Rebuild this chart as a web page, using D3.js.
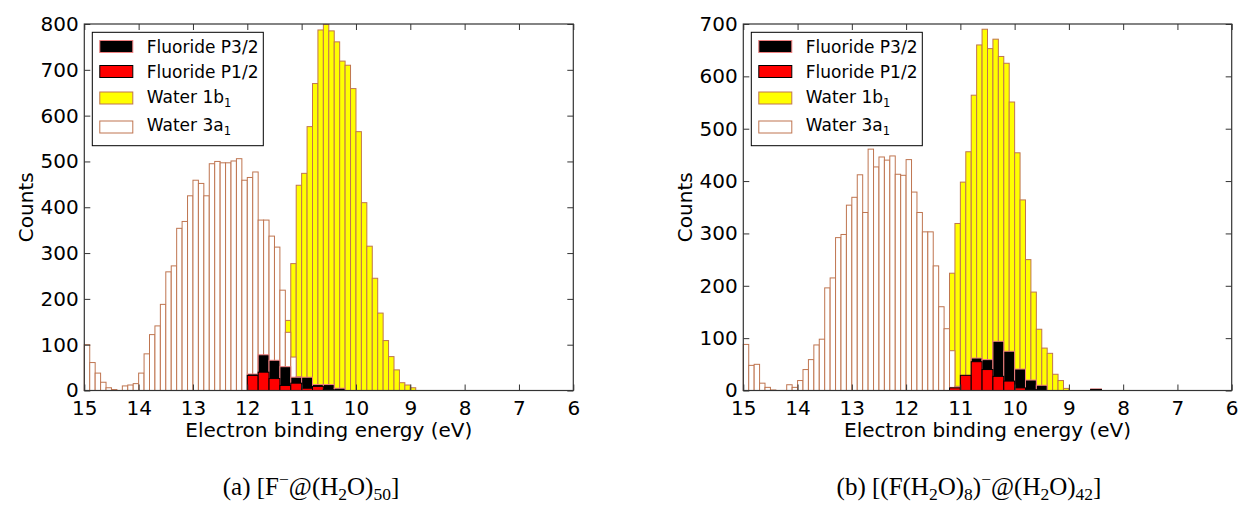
<!DOCTYPE html>
<html>
<head>
<meta charset="utf-8">
<script src="https://cdn.jsdelivr.net/npm/d3@7"></script>
<style>
  body { margin: 0; background: #fff; }
  text { font-family: "DejaVu Sans", sans-serif; fill: #000; }
</style>
</head>
<body>
<svg id="fig" width="1241" height="506"></svg>
<script>
// --- data ---
const energyTicks = [15, 14, 13, 12, 11, 10, 9, 8, 7, 6];
const waterBinWidth = 0.1;     // eV
const fluorideBinWidth = 0.2;  // eV

// (a) [F-@(H2O)50]
const aYTicks = [0, 100, 200, 300, 400, 500, 600, 700, 800];
const aWater3a1Start = 15.0;
const aWater3a1 = [100, 61, 38, 18, 6, 2, 0, 10, 12, 15, 38, 80, 122, 141, 188, 259, 272, 354, 369, 425,
                   459, 452, 425, 495, 500, 497, 497, 501, 506, 459, 465, 477, 372, 372, 337, 313, 219, 127, 73, 30, 12, 5];
const aWater1b1Start = 11.4;
const aWater1b1 = [85, 153, 277, 448, 474, 576, 670, 787, 799, 785, 761, 719, 710, 659, 565, 410, 315, 245,
                   169, 109, 74, 45, 17, 12, 6];
const aFluorideStart = 12.0;
const aFluorideP32 = [36, 78, 66, 52, 29, 29, 13, 13, 5];
const aFluorideP12 = [33, 40, 26, 11, 16, 5, 9, 2, 0];

// (b) [(F(H2O)8)-@(H2O)42]
const bYTicks = [0, 100, 200, 300, 400, 500, 600, 700];
const bWater3a1Start = 15.0;
const bWater3a1 = [88, 48, 50, 14, 6, 1, 0, 0, 11, 6, 19, 40, 59, 87, 98, 196, 215, 292, 298, 354,
                   369, 412, 340, 461, 427, 446, 440, 448, 413, 411, 441, 379, 340, 303, 303, 238, 160, 118, 76, 8, 3];
const bWater1b1Start = 11.3;
const bWater1b1 = [90, 224, 319, 398, 456, 564, 660, 690, 653, 671, 638, 625, 551, 454, 364, 250, 188,
                   117, 81, 71, 31, 19, 4];
const bFluorideStart = 11.2;
const bFluorideP32 = [6, 29, 62, 59, 94, 75, 41, 20, 10, 0, 0, 0, 0, 3];
const bFluorideP12 = [5, 29, 55, 40, 27, 18, 5, 2, 0, 0, 0, 0, 0, 2];

const seriesNames = ["Fluoride P3/2", "Fluoride P1/2", "Water 1b", "Water 3a"];

// colours
const edgeBrown = "#bf7550";
const styles = {
  p32: { fill: "#000000", stroke: "#f08080" },
  p12: { fill: "#ff0000", stroke: "#000000" },
  b1:  { fill: "#ffff00", stroke: edgeBrown },
  a1:  { fill: "#ffffff", stroke: edgeBrown }
};

const svg = d3.select("#fig");
const plotTop = 24, plotBottom = 390.5;

function bins(start, width, counts) {
  return counts.map((c, i) => ({ hi: start - i * width, lo: start - (i + 1) * width, count: c }));
}

function drawPanel(p) {
  const x = d3.scaleLinear().domain([15, 6]).range([p.left, p.right]);
  const y = d3.scaleLinear().domain([0, p.ymax]).range([plotBottom, plotTop]);
  const g = svg.append("g");

  // 1b1 first, 3a1 over it, fluoride on top
  const layers = [
    [bins(p.b1Start, waterBinWidth, p.b1), styles.b1],
    [bins(p.a1Start, waterBinWidth, p.a1), styles.a1],
    [bins(p.fStart, fluorideBinWidth, p.p32), styles.p32],
    [bins(p.fStart, fluorideBinWidth, p.p12), styles.p12]
  ];
  layers.forEach(([data, st]) => {
    g.append("g").selectAll("rect")
      .data(data.filter(d => d.count > 0))
      .enter().append("rect")
      .attr("x", d => x(d.hi))
      .attr("y", d => y(d.count))
      .attr("width", d => x(d.lo) - x(d.hi))
      .attr("height", d => plotBottom - y(d.count))
      .attr("fill", st.fill)
      .attr("stroke", st.stroke)
      .attr("stroke-width", 1);
  });

  // axes, ticks pointing inwards on all four sides
  const axColor = "#333";
  g.append("g").attr("transform", `translate(0,${plotBottom})`)
    .call(d3.axisBottom(x).tickValues(energyTicks).tickSizeInner(-6).tickSizeOuter(0).tickPadding(10.5));
  g.append("g").attr("transform", `translate(0,${plotTop})`)
    .call(d3.axisTop(x).tickValues(energyTicks).tickSizeInner(-6).tickSizeOuter(0).tickFormat(""));
  g.append("g").attr("transform", `translate(${p.left},0)`)
    .call(d3.axisLeft(y).tickValues(p.yTicks).tickSizeInner(-6).tickSizeOuter(0).tickPadding(5.5));
  g.append("g").attr("transform", `translate(${p.right},0)`)
    .call(d3.axisRight(y).tickValues(p.yTicks).tickSizeInner(-6).tickSizeOuter(0).tickFormat(""));
  g.selectAll(".domain").remove();
  g.selectAll(".tick line").attr("stroke", axColor);
  g.selectAll(".tick text").attr("font-size", "20px").attr("font-family", "DejaVu Sans");

  g.append("rect")
    .attr("x", p.left).attr("y", plotTop)
    .attr("width", p.right - p.left).attr("height", plotBottom - plotTop)
    .attr("fill", "none").attr("stroke", axColor).attr("stroke-width", 1.2);

  // axis titles
  g.append("text")
    .attr("x", (p.left + p.right) / 2).attr("y", 437)
    .attr("text-anchor", "middle").attr("font-size", "20px")
    .text("Electron binding energy (eV)");
  g.append("text")
    .attr("transform", `translate(${p.left - 51},${(plotTop + plotBottom) / 2}) rotate(-90)`)
    .attr("text-anchor", "middle").attr("font-size", "20px")
    .text("Counts");

  // legend
  const lx = p.left + 8, ly0 = 32.3;
  g.append("rect").attr("x", lx).attr("y", ly0).attr("width", 171).attr("height", 113.4)
    .attr("fill", "#fff").attr("stroke", "#000").attr("stroke-width", 1);
  const legendStyles = [styles.p32, styles.p12, styles.b1, styles.a1];
  const patchY = [46.5, 71.5, 98, 127];
  const textY = [53, 78, 102.5, 130.5];
  seriesNames.forEach((name, i) => {
    g.append("rect").attr("x", lx + 7.5).attr("y", patchY[i] - 6).attr("width", 33).attr("height", 12)
      .attr("fill", legendStyles[i].fill).attr("stroke", legendStyles[i].stroke).attr("stroke-width", 1);
    const t = g.append("text").attr("x", lx + 54.5).attr("y", textY[i]).attr("font-size", "17px").text(name);
    if (i >= 2) t.append("tspan").attr("font-size", "11.5px").attr("dy", 4).text("1");
  });

  // caption below the panel, with sub/superscripts
  const cap = svg.append("text").attr("x", p.capX).attr("y", 495).attr("text-anchor", "middle")
    .attr("font-size", "25px").style("font-family", "'Liberation Serif', serif");
  let shift = 0;
  p.caption.forEach(([s, kind]) => {
    const target = kind === "sup" ? -10 : kind === "sub" ? 5 : 0;
    cap.append("tspan").attr("dy", target - shift).attr("font-size", kind ? "17.5px" : "25px").text(s);
    shift = target;
  });
}

drawPanel({
  left: 84.3, right: 573.3, ymax: 800, yTicks: aYTicks, capX: 311,
  a1Start: aWater3a1Start, a1: aWater3a1, b1Start: aWater1b1Start, b1: aWater1b1,
  fStart: aFluorideStart, p32: aFluorideP32, p12: aFluorideP12,
  caption: [["(a) [F", ""], ["−", "sup"], ["@(H", ""], ["2", "sub"], ["O)", ""], ["50", "sub"], ["]", ""]]
});
drawPanel({
  left: 743.3, right: 1231.7, ymax: 700, yTicks: bYTicks, capX: 969,
  a1Start: bWater3a1Start, a1: bWater3a1, b1Start: bWater1b1Start, b1: bWater1b1,
  fStart: bFluorideStart, p32: bFluorideP32, p12: bFluorideP12,
  caption: [["(b) [(F(H", ""], ["2", "sub"], ["O)", ""], ["8", "sub"], [")", ""], ["−", "sup"], ["@(H", ""],
            ["2", "sub"], ["O)", ""], ["42", "sub"], ["]", ""]]
});
</script>
</body>
</html>
